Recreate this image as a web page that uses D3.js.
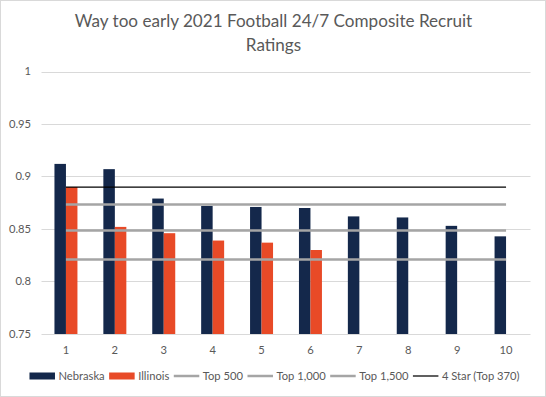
<!DOCTYPE html>
<html>
<head>
<meta charset="utf-8">
<script src="https://cdn.jsdelivr.net/npm/d3@7"></script>
<style>
  body { margin: 0; background: #fff; }
  svg { display: block; font-family: Lato, Calibri, "Liberation Sans", sans-serif; }
</style>
</head>
<body>
<div id="chart"></div>
<script>
// data
var picks = ["1", "2", "3", "4", "5", "6", "7", "8", "9", "10"];
var nebraska = [0.912, 0.907, 0.879, 0.872, 0.871, 0.870, 0.862, 0.861, 0.853, 0.843];
var illinois = [0.890, 0.852, 0.846, 0.839, 0.837, 0.830, null, null, null, null];
var top500 = [0.8734, 0.8734, 0.8734, 0.8734, 0.8734, 0.8734, 0.8734, 0.8734, 0.8734, 0.8734];
var top1000 = [0.8486, 0.8486, 0.8486, 0.8486, 0.8486, 0.8486, 0.8486, 0.8486, 0.8486, 0.8486];
var top1500 = [0.8209, 0.8209, 0.8209, 0.8209, 0.8209, 0.8209, 0.8209, 0.8209, 0.8209, 0.8209];
var fourStar = [0.890, 0.890, 0.890, 0.890, 0.890, 0.890, 0.890, 0.890, 0.890, 0.890];
var yTicks = [0.75, 0.8, 0.85, 0.9, 0.95, 1];

var width = 546, height = 397;
var textColor = "#595959", gridColor = "#d9d9d9";
var navy = "#14284b", orange = "#e84a27", gray = "#a5a5a5";
var smallFont = "11.2px";

var svg = d3.select("#chart").append("svg")
  .attr("width", width)
  .attr("height", height);

// chart border
svg.append("rect")
  .attr("x", 0.5).attr("y", 0.5)
  .attr("width", width - 1).attr("height", height - 1)
  .attr("fill", "#fff")
  .attr("stroke", gridColor);

// title
var title = svg.append("text")
  .attr("text-anchor", "middle")
  .attr("fill", textColor)
  .attr("font-size", "17.1px");
title.append("tspan").attr("x", 273.5).attr("y", 27).text("Way too early 2021 Football 24/7 Composite Recruit");
title.append("tspan").attr("x", 273.5).attr("y", 51).text("Ratings");

var x = d3.scaleBand()
  .domain(picks)
  .range([41.5, 530.5])
  .paddingInner(0.53)
  .paddingOuter(0.265);

var y = d3.scaleLinear()
  .domain([0.75, 1])
  .range([334, 71.5]);

// gridlines
svg.append("g")
  .selectAll("line")
  .data(yTicks)
  .enter().append("line")
  .attr("x1", 41.5).attr("x2", 530.5)
  .attr("y1", d => Math.round(y(d)) + 0.5)
  .attr("y2", d => Math.round(y(d)) + 0.5)
  .attr("stroke", gridColor);

// y labels
svg.append("g")
  .selectAll("text")
  .data(yTicks)
  .enter().append("text")
  .attr("x", 31)
  .attr("y", d => y(d))
  .attr("dy", "0.35em")
  .attr("text-anchor", "end")
  .attr("fill", textColor)
  .attr("font-size", smallFont)
  .text(d => d3.format("")(d));

// x labels
svg.append("g")
  .selectAll("text")
  .data(picks)
  .enter().append("text")
  .attr("x", d => x(d) + x.bandwidth() / 2)
  .attr("y", 353.5)
  .attr("text-anchor", "middle")
  .attr("fill", textColor)
  .attr("font-size", smallFont)
  .text(d => d);

// bars
var half = x.bandwidth() / 2;
var bars = [
  { values: nebraska, color: navy, off: 0 },
  { values: illinois, color: orange, off: half }
];
bars.forEach(function(s) {
  svg.append("g")
    .selectAll("rect")
    .data(s.values.map((v, i) => ({ pick: picks[i], v: v })).filter(d => d.v != null))
    .enter().append("rect")
    .attr("x", d => x(d.pick) + s.off)
    .attr("y", d => y(d.v))
    .attr("width", half)
    .attr("height", d => y(0.75) - y(d.v))
    .attr("fill", s.color);
});

// reference lines
var lineGen = d3.line()
  .x(d => x(d.pick) + x.bandwidth() / 2)
  .y(d => y(d.v));
var refs = [
  { values: top500, color: gray, w: 2.5 },
  { values: top1000, color: gray, w: 2.5 },
  { values: top1500, color: gray, w: 2.5 },
  { values: fourStar, color: "#000", w: 1.25 }
];
refs.forEach(function(s) {
  svg.append("path")
    .datum(s.values.map((v, i) => ({ pick: picks[i], v: v })))
    .attr("d", lineGen)
    .attr("fill", "none")
    .attr("stroke", s.color)
    .attr("stroke-width", s.w);
});

// legend
var legendItems = [
  { name: "Nebraska", color: navy, type: "rect" },
  { name: "Illinois", color: orange, type: "rect" },
  { name: "Top 500", color: gray, type: "line", w: 2.5 },
  { name: "Top 1,000", color: gray, type: "line", w: 2.5 },
  { name: "Top 1,500", color: gray, type: "line", w: 2.5 },
  { name: "4 Star (Top 370)", color: "#000", type: "line", w: 1.25 }
];
var legend = svg.append("g");
var cx = 0, ly = 376;
legendItems.forEach(function(it) {
  var g = legend.append("g");
  if (it.type == "rect") {
    g.append("rect").attr("x", cx).attr("y", ly - 3.5).attr("width", 25.5).attr("height", 7).attr("fill", it.color);
  } else {
    g.append("line").attr("x1", cx).attr("x2", cx + 25.5).attr("y1", ly).attr("y2", ly)
      .attr("stroke", it.color).attr("stroke-width", it.w);
  }
  var t = g.append("text")
    .attr("x", cx + 29)
    .attr("y", ly)
    .attr("dy", "0.35em")
    .attr("fill", textColor)
    .attr("font-size", smallFont)
    .text(it.name);
  cx += 29 + t.node().getComputedTextLength() + 4.5;
});
var lw = cx - 4.5;
legend.attr("transform", "translate(" + (274.5 - lw / 2) + ",0)");
</script>
</body>
</html>
